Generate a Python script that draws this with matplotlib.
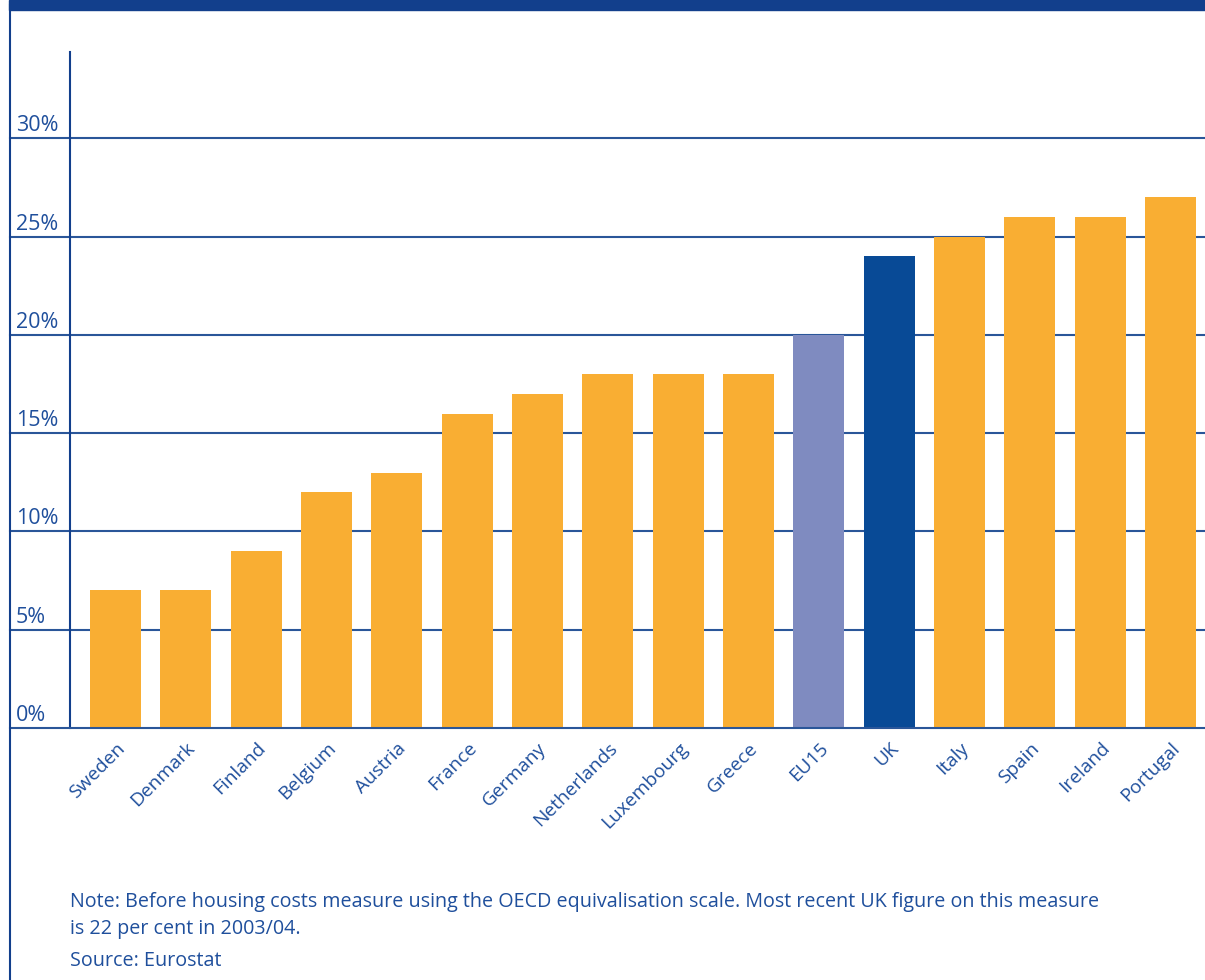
import matplotlib
matplotlib.use("Agg")
import matplotlib.pyplot as plt
import matplotlib.transforms as mtransforms
from matplotlib.lines import Line2D
from matplotlib.patches import Rectangle

plt.rcParams['font.family'] = ['Open Sans', 'DejaVu Sans']

countries = ["Sweden", "Denmark", "Finland", "Belgium", "Austria", "France", "Germany",
             "Netherlands", "Luxembourg", "Greece", "EU15", "UK", "Italy", "Spain",
             "Ireland", "Portugal"]
values = [7, 7, 9, 12, 13, 16, 17, 18, 18, 18, 20, 24, 25, 26, 26, 27]
yticks = [0, 5, 10, 15, 20, 25, 30]
ytick_labels = ["0%", "5%", "10%", "15%", "20%", "25%", "30%"]
note = ("Note: Before housing costs measure using the OECD equivalisation scale. Most recent UK figure on this measure\n"
        "is 22 per cent in 2003/04.")
source = "Source: Eurostat"

ORANGE = "#F9AE33"
EU_COL = "#7F8BC0"
UK_COL = "#084A96"
NAVY = "#123F8C"
TEXT = "#1F4F9C"
GRID = "#2A5699"

colors = [EU_COL if c == "EU15" else UK_COL if c == "UK" else ORANGE for c in countries]

fig = plt.figure(figsize=(12.05, 9.8), dpi=100)
W, H = 1205, 980
ax = fig.add_axes([70 / W, 1 - 728 / H, 1 - 70 / W, (728 - 52) / H])

x = list(range(len(countries)))
ax.bar(x, values, width=0.725, color=colors, zorder=3)
ax.set_xlim(-0.647, 15.49)
ax.set_ylim(0, 34.4)

# gridlines extending left to the frame line
left_ext = (10 - 70) / (W - 70)
for t in yticks:
    ax.axhline(t, xmin=left_ext, xmax=1, color=GRID, lw=1.5, clip_on=False,
               zorder=1 if t > 0 else 4)

for s in ["top", "right", "bottom"]:
    ax.spines[s].set_visible(False)
ax.spines["left"].set_color(NAVY)
ax.spines["left"].set_linewidth(1.5)

ax.set_yticks(yticks)
ax.set_yticklabels([])
ax.tick_params(axis="y", length=0)
blend = mtransforms.blended_transform_factory(fig.transFigure, ax.transData)
for t, lab in zip(yticks, ytick_labels):
    ax.text(16 / W, t + 0.36, lab, transform=blend, ha="left", va="baseline",
            fontsize=15.5, color=TEXT)

ax.set_xticks(x)
ax.set_xticklabels(countries, rotation=45, ha="right", va="top", rotation_mode="anchor",
                   fontsize=13.8, color=TEXT)
ax.tick_params(axis="x", length=0, pad=8)

# frame decorations
fig.patches.append(Rectangle((9 / W, 1 - 10 / H), 1 - 9 / W, 10 / H, transform=fig.transFigure,
                             color=NAVY, zorder=10))
fig.lines.append(Line2D([10 / W, 10 / W], [0, 1 - 5 / H], transform=fig.transFigure,
                        color=NAVY, lw=1.5))

fig.text(70 / W, 1 - 934 / H, note, ha="left", va="baseline", fontsize=14.2, color=TEXT,
         linespacing=1.5)
fig.text(70 / W, 1 - 966 / H, source, ha="left", va="baseline", fontsize=14.2, color=TEXT)

fig.savefig("out.png", dpi=100)
